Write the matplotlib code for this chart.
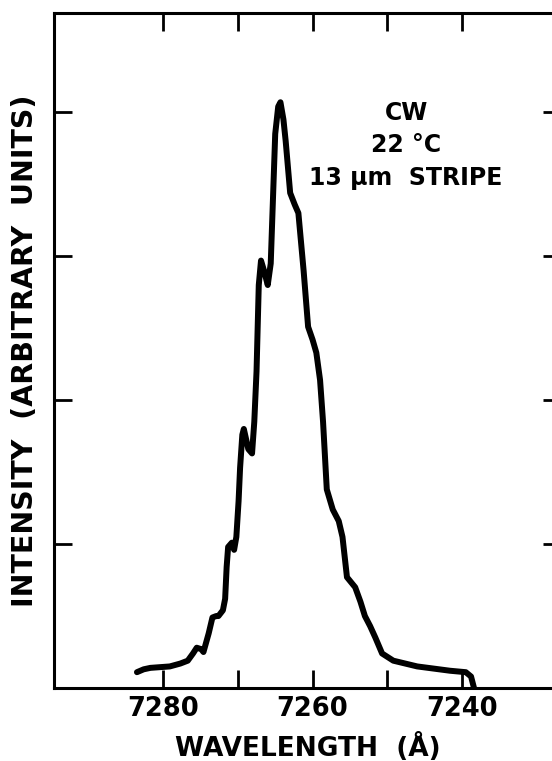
import numpy as np
import matplotlib
matplotlib.use("Agg")
from matplotlib import pyplot as plt

# spectrum (wavelength in Angstrom, intensity in arb. units)
wavelength = [7283.5, 7282.6, 7281.7, 7279.1, 7277.7, 7276.7, 7276.0, 7275.5, 7274.9,
              7274.6, 7273.9, 7273.4, 7272.9, 7272.6, 7272.0, 7271.7, 7271.5, 7271.3,
              7270.8, 7270.5, 7270.2, 7269.9, 7269.7, 7269.4, 7269.2, 7268.6, 7268.1,
              7267.8, 7267.5, 7267.2, 7266.9, 7266.5, 7266.0, 7265.6, 7265.3, 7265.0,
              7264.6, 7264.3, 7263.9, 7263.6, 7263.0, 7262.4, 7261.9, 7261.2, 7260.6,
              7260.0, 7259.5, 7259.0, 7258.6, 7258.1, 7257.3, 7256.5, 7256.0, 7255.4,
              7254.3, 7253.6, 7253.0, 7252.3, 7251.6, 7250.7, 7249.2, 7246.0, 7241.6,
              7239.5, 7238.8, 7238.4]
intensity = [0.11, 0.13, 0.14, 0.15, 0.17, 0.19, 0.24, 0.28, 0.27,
             0.25, 0.38, 0.49, 0.50, 0.50, 0.54, 0.62, 0.84, 0.98,
             1.01, 0.96, 1.05, 1.30, 1.53, 1.76, 1.80, 1.66, 1.63,
             1.85, 2.20, 2.80, 2.97, 2.90, 2.80, 2.95, 3.40, 3.85,
             4.04, 4.07, 3.95, 3.80, 3.44, 3.36, 3.30, 2.90, 2.51,
             2.42, 2.33, 2.14, 1.85, 1.38, 1.24, 1.16, 1.05, 0.77,
             0.70, 0.60, 0.50, 0.43, 0.35, 0.24, 0.19, 0.15, 0.12,
             0.11, 0.08, 0.0]

xticks = [7280, 7270, 7260, 7250, 7240]
xticklabels = ["7280", "", "7260", "", "7240"]
yticks = [1, 2, 3, 4]

plt.rcParams['font.family'] = ['DejaVu Sans']

fig = plt.figure(figsize=(5.52, 7.61), dpi=100)
ax = fig.add_axes([0.0978, 0.0959, 0.918, 0.887])

ax.plot(wavelength, intensity, color='black', lw=4.3,
        solid_capstyle='round', solid_joinstyle='round')

ax.set_xlim(7294.6, 7226.8)
ax.set_ylim(0, 4.69)

ax.set_xticks(xticks)
ax.set_xticklabels(xticklabels, fontsize=18.5, fontweight='bold')
ax.set_yticks(yticks)
ax.set_yticklabels([])
ax.tick_params(direction='in', length=13, width=2, top=True, right=True, pad=6)

for s in ax.spines.values():
    s.set_linewidth(2.2)

ax.set_xlabel("WAVELENGTH  (Å)", fontsize=19, fontweight='bold', labelpad=8)
ax.set_ylabel("INTENSITY  (ARBITRARY  UNITS)", fontsize=20.5, fontweight='bold', labelpad=5)

ax.text(7247.5, 3.77, "CW\n22 °C\n13 μm  STRIPE", ha='center', va='center',
        fontsize=17, fontweight='bold', linespacing=1.45)

plt.savefig("out.png", dpi=100)
